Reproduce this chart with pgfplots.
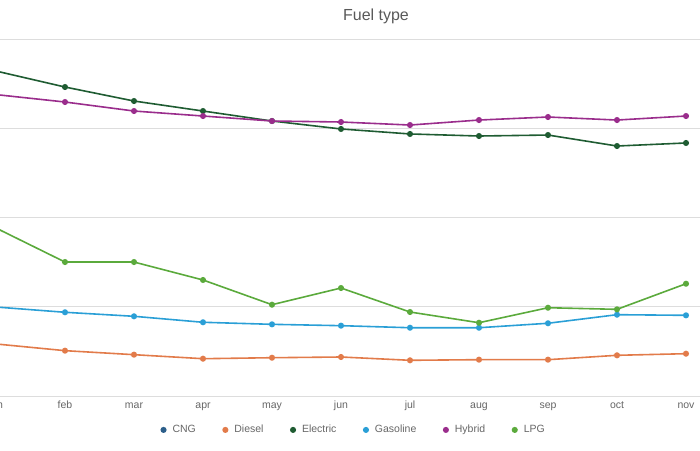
\documentclass[border=0pt]{standalone}
\usepackage{pgfplots}
\pgfplotsset{compat=1.18}
\usepackage{fontspec}
\setmainfont{Liberation Sans}
\definecolor{cngc}{HTML}{2C5F8A}
\definecolor{dieselc}{HTML}{E27B4A}
\definecolor{elecc}{HTML}{1F5C32}
\definecolor{gasc}{HTML}{2A9FD6}
\definecolor{hybc}{HTML}{9A2D8C}
\definecolor{lpgc}{HTML}{5BAA3C}
\definecolor{gridc}{HTML}{DDDDDD}
\definecolor{txtc}{HTML}{666666}
\begin{document}
\begin{tikzpicture}
\begin{scope}
\clip (0,0) rectangle (700pt,450pt);
\begin{axis}[
  at={(-38.5pt,54pt)}, anchor=south west,
  scale only axis, width=738.5pt, height=357pt,
  xmin=-0.5, xmax=10.203, ymin=0, ymax=4,
  axis x line=bottom, axis y line=left,
  x axis line style={draw=gridc, line width=0.8pt, -},
  y axis line style={draw=none},
  ytick={1,2,3,4}, yticklabels={}, ymajorgrids,
  grid style={draw=gridc, line width=0.8pt},
  xtick={0,1,2,3,4,5,6,7,8,9,10},
  xticklabels={jan,feb,mar,apr,may,jun,jul,aug,sep,oct,nov},
  major tick length=0pt,
  xticklabel style={font=\fontsize{10.5}{12}\selectfont, text=txtc, text height=1.6ex, text depth=0.3ex, anchor=north, yshift=-1pt},
  every axis plot/.append style={line width=1.6pt, mark=*, mark size=2.2pt},
  legend columns=6,
  legend style={draw=none, fill=none, at={(0.531,-0.095)}, anchor=center,
    font=\fontsize{10.5}{12}\selectfont, text=txtc,
    /tikz/every even column/.append style={column sep=24.5pt}},
  legend image code/.code={\fill (0,0) circle (2.2pt); \path[draw=none,fill=none] (-2.2pt,0) -- (7pt,0);},
]
\addlegendimage{color=cngc}
\addlegendentry{CNG}
\addplot[color=dieselc] coordinates {(0,0.583)(1,0.508)(2,0.463)(3,0.418)(4,0.429)(5,0.437)(6,0.400)(7,0.407)(8,0.407)(9,0.456)(10,0.474)};
\addlegendentry{Diesel}
\addplot[color=elecc] coordinates {(0,3.641)(1,3.462)(2,3.305)(3,3.193)(4,3.081)(5,2.992)(6,2.936)(7,2.913)(8,2.924)(9,2.801)(10,2.835)};
\addlegendentry{Electric}
\addplot[color=gasc] coordinates {(0,0.997)(1,0.938)(2,0.893)(3,0.826)(4,0.803)(5,0.788)(6,0.765)(7,0.765)(8,0.815)(9,0.911)(10,0.904)};
\addlegendentry{Gasoline}
\addplot[color=hybc] coordinates {(0,3.377)(1,3.294)(2,3.193)(3,3.137)(4,3.081)(5,3.070)(6,3.036)(7,3.092)(8,3.126)(9,3.092)(10,3.137)};
\addlegendentry{Hybrid}
\addplot[color=lpgc] coordinates {(0,1.882)(1,1.501)(2,1.501)(3,1.300)(4,1.023)(5,1.210)(6,0.941)(7,0.821)(8,0.989)(9,0.971)(10,1.258)};
\addlegendentry{LPG}
\end{axis}
\node[font=\fontsize{16}{18}\selectfont, text=black!65] at (376pt,434pt) {Fuel type};
\end{scope}
\pgfresetboundingbox
\useasboundingbox (0,0) rectangle (700pt,450pt);
\end{tikzpicture}
\end{document}
